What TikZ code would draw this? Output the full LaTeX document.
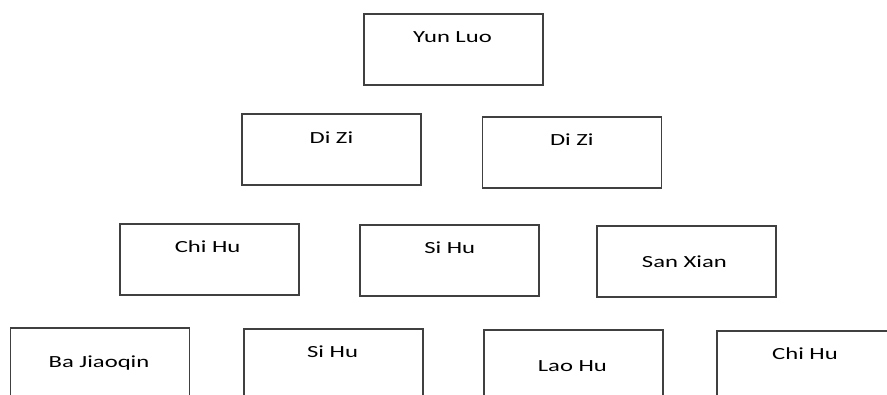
\documentclass[tikz,border=0pt]{standalone}
\usepackage{fontspec}
\setmainfont{Carlito}
\newcommand{\wtxt}[1]{\scalebox{1.45}[1]{#1}}
\begin{document}
\begin{tikzpicture}[x=1pt,y=-1pt,
  box/.style={draw=black!75,line width=1.7pt,minimum width=179pt,minimum height=71pt,inner sep=0pt,fill=white},
  lbl/.style={anchor=base,inner sep=0pt,font=\fontsize{17pt}{20pt}\selectfont,text=black}]
\useasboundingbox (0,0) rectangle (887,395);
\clip (0,0) rectangle (887,395);
\fill[white] (0,0) rectangle (887,395);
% boxes
\node[box] (yun) at (453.7,49.2) {};
\node[box] (dizi1) at (331.5,149.8) {};
\node[box] (dizi2) at (571.9,152.2) {};
\node[box] (chihu1) at (209.3,259.7) {};
\node[box] (sihu1) at (449.7,260.3) {};
\node[box] (sanxian) at (686.7,261.5) {};
\node[box] (bajiao) at (100.1,363.2) {};
\node[box] (sihu2) at (333.7,364.5) {};
\node[box] (laohu) at (573.6,365.8) {};
\node[box] (chihu2) at (806.6,366.8) {};
% labels
\node[lbl] (tyun) at (452.5,42.2) {\wtxt{Yun Luo}};
\node[lbl] (tdizi1) at (331.4,143.2) {\wtxt{Di Zi}};
\node[lbl] (tdizi2) at (571.8,145.5) {\wtxt{Di Zi}};
\node[lbl] (tchihu1) at (207.6,252.2) {\wtxt{Chi Hu}};
\node[lbl] (tsihu1) at (449.7,253.2) {\wtxt{Si Hu}};
\node[lbl] (tsanxian) at (684.4,267.2) {\wtxt{San Xian}};
\node[lbl] (tbajiao) at (99,368) {\wtxt{Ba Jiaoqin}};
\node[lbl] (tsihu2) at (332.6,357.8) {\wtxt{Si Hu}};
\node[lbl] (tlaohu) at (572.4,371.2) {\wtxt{Lao Hu}};
\node[lbl] (tchihu2) at (805,359.5) {\wtxt{Chi Hu}};
\end{tikzpicture}
\end{document}
